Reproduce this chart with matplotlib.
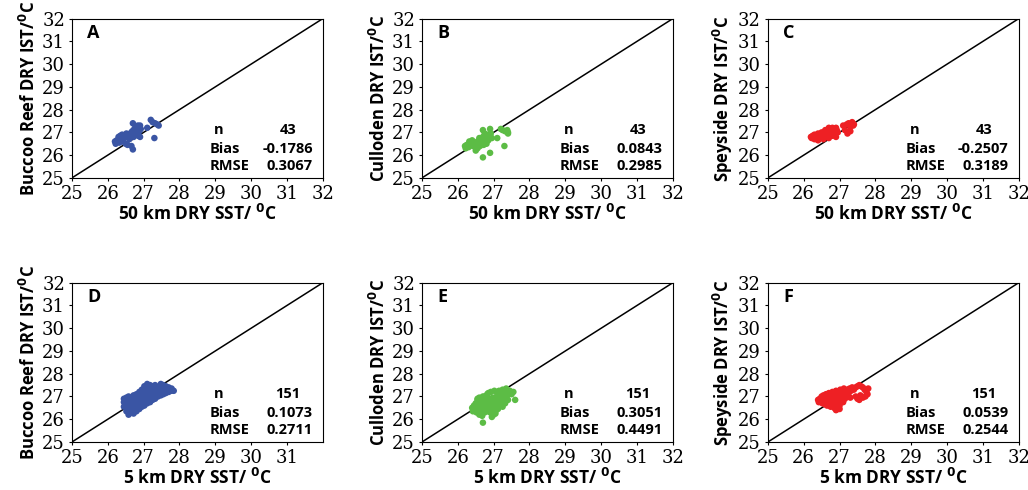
import numpy as np
import matplotlib
matplotlib.use("Agg")
import matplotlib.pyplot as plt

# ---- data ----
xA = [26.20, 26.22, 26.25, 26.30, 26.32, 26.35, 26.38, 26.40, 26.42, 26.45, 26.48, 26.50, 26.52, 26.55, 26.58,
      26.60, 26.62, 26.65, 26.66, 26.68, 26.70, 26.70, 26.72, 26.74, 26.75, 26.77, 26.78, 26.80, 26.82, 26.84,
      26.85, 26.86, 26.88, 26.90, 26.90, 26.92, 27.10, 27.20, 27.25, 27.30, 27.32, 27.38, 27.42]
yA = [26.60, 26.50, 26.65, 26.80, 26.55, 26.85, 26.70, 26.90, 26.60, 26.75, 26.80, 26.50, 26.95, 26.45, 26.85,
      26.70, 26.95, 26.90, 26.40, 27.05, 27.40, 26.25, 26.80, 27.15, 27.00, 26.95, 27.25, 27.10, 27.00, 27.30,
      26.85, 27.20, 27.05, 27.30, 26.80, 27.15, 27.20, 27.55, 27.45, 26.75, 27.40, 27.35, 27.30]

xB = [26.20, 26.22, 26.25, 26.30, 26.32, 26.35, 26.40, 26.42, 26.45, 26.50, 26.50, 26.55, 26.55, 26.60, 26.60,
      26.62, 26.65, 26.68, 26.70, 26.70, 26.70, 26.72, 26.75, 26.75, 26.78, 26.80, 26.80, 26.82, 26.85, 26.85,
      26.88, 26.90, 26.90, 26.92, 26.95, 27.10, 27.20, 27.25, 27.30, 27.32, 27.38, 27.40, 27.40]
yB = [26.40, 26.30, 26.45, 26.35, 26.60, 26.50, 26.65, 26.40, 26.55, 26.20, 26.45, 26.60, 26.30, 26.75, 26.50,
      26.40, 26.65, 26.55, 27.10, 25.90, 26.80, 26.45, 26.70, 26.95, 26.60, 26.85, 26.50, 26.75, 26.90, 26.65,
      26.80, 27.15, 26.10, 26.95, 26.75, 26.75, 27.15, 27.10, 26.40, 27.05, 27.10, 26.95, 27.00]

xC = [26.20, 26.22, 26.25, 26.30, 26.30, 26.35, 26.40, 26.40, 26.45, 26.50, 26.50, 26.55, 26.55, 26.60, 26.60,
      26.62, 26.65, 26.68, 26.70, 26.70, 26.72, 26.75, 26.75, 26.78, 26.80, 26.80, 26.82, 26.85, 26.88, 26.90,
      26.90, 26.92, 26.95, 27.10, 27.15, 27.20, 27.22, 27.25, 27.30, 27.30, 27.35, 27.38, 27.40]
yC = [26.80, 26.75, 26.85, 26.70, 26.90, 26.80, 26.65, 26.95, 26.75, 26.85, 27.00, 26.70, 26.90, 27.10, 26.80,
      26.95, 27.00, 26.85, 27.20, 26.75, 27.05, 26.90, 27.15, 27.00, 27.20, 26.85, 27.10, 26.95, 27.05, 27.20,
      26.80, 27.10, 27.00, 27.30, 27.10, 27.35, 26.95, 27.40, 27.25, 27.05, 27.45, 27.30, 27.35]

xD = [26.45, 26.45, 26.45, 26.52, 26.52, 26.52, 26.52, 26.58, 26.58, 26.58, 26.58, 26.58,
      26.65, 26.65, 26.65, 26.65, 26.65, 26.72, 26.72, 26.72, 26.72, 26.72,
      26.80, 26.80, 26.80, 26.80, 26.80, 26.88, 26.88, 26.88, 26.88, 26.88,
      26.95, 26.95, 26.95, 26.95, 26.95, 27.02, 27.02, 27.02, 27.02, 27.02,
      27.10, 27.10, 27.10, 27.10, 27.10, 27.18, 27.18, 27.18, 27.18, 27.18,
      27.25, 27.25, 27.25, 27.25, 27.32, 27.32, 27.32, 27.32, 27.40, 27.40, 27.40,
      27.48, 27.48, 27.48, 27.48, 27.55, 27.55, 27.55, 27.62, 27.62, 27.62,
      27.70, 27.70, 27.78, 27.78, 27.84]
yD = [26.55, 26.75, 26.90, 26.35, 26.60, 26.85, 26.95, 26.20, 26.45, 26.70, 26.90, 27.00,
      26.30, 26.55, 26.80, 26.95, 26.65, 26.25, 26.40, 26.60, 26.85, 27.05,
      26.50, 26.70, 26.90, 27.10, 26.35, 26.45, 26.65, 26.85, 27.00, 27.20,
      26.55, 26.75, 26.95, 27.15, 27.30, 26.60, 26.80, 27.00, 27.25, 27.45,
      26.70, 26.90, 27.10, 27.35, 27.55, 26.75, 26.95, 27.15, 27.40, 27.50,
      26.85, 27.05, 27.25, 27.45, 26.90, 27.10, 27.30, 27.50, 27.00, 27.20, 27.40,
      27.05, 27.25, 27.45, 27.55, 27.10, 27.30, 27.50, 27.15, 27.35, 27.45,
      27.20, 27.40, 27.25, 27.35, 27.25]

xE = [26.40, 26.42, 26.45, 26.48, 26.50, 26.52, 26.55, 26.55, 26.58, 26.60, 26.60, 26.62, 26.65, 26.65,
      26.68, 26.70, 26.70, 26.72, 26.75, 26.75, 26.78, 26.80, 26.80, 26.82, 26.85, 26.85, 26.88, 26.90,
      26.90, 26.92, 26.95, 26.95, 26.98, 27.00, 27.00, 27.02, 27.05, 27.05, 27.08, 27.10, 27.10, 27.12,
      27.15, 27.15, 27.18, 27.20, 27.22, 27.25, 27.28, 27.30, 27.32, 27.35, 27.38, 27.40, 27.45, 27.50,
      27.55, 27.60, 26.60, 26.70, 26.68, 26.95, 27.05, 27.25, 26.85, 26.75, 26.55, 27.00, 26.90]
yE = [26.50, 26.35, 26.60, 26.45, 26.70, 26.30, 26.55, 26.85, 26.40, 26.65, 26.95, 26.25, 26.50, 26.80,
      26.60, 26.40, 27.00, 26.70, 26.30, 26.85, 26.55, 26.45, 26.75, 27.10, 26.35, 26.65, 26.90, 26.50,
      26.80, 27.20, 26.40, 26.70, 26.95, 26.55, 26.85, 27.25, 26.60, 26.35, 26.90, 26.75, 27.05, 26.45,
      26.95, 27.25, 26.65, 27.10, 26.80, 27.30, 26.95, 27.20, 26.70, 27.35, 27.05, 26.85, 27.25, 27.10,
      27.20, 26.85, 26.20, 25.85, 26.15, 26.10, 26.25, 26.55, 27.15, 27.00, 26.90, 26.20, 26.30]

xF = [26.40, 26.42, 26.45, 26.48, 26.50, 26.52, 26.55, 26.55, 26.58, 26.60, 26.60, 26.62, 26.65, 26.65,
      26.68, 26.70, 26.70, 26.72, 26.75, 26.75, 26.78, 26.80, 26.80, 26.82, 26.85, 26.85, 26.88, 26.90,
      26.90, 26.92, 26.95, 26.95, 26.98, 27.00, 27.00, 27.02, 27.05, 27.05, 27.08, 27.10, 27.10, 27.12,
      27.15, 27.15, 27.18, 27.20, 27.22, 27.25, 27.28, 27.30, 27.32, 27.35, 27.40, 27.45, 27.50, 27.55,
      27.60, 27.65, 27.70, 27.75, 27.80, 27.78, 27.72, 27.65, 27.58, 27.50, 27.45, 27.55, 26.90, 27.00]
yF = [26.85, 26.75, 26.90, 26.80, 27.00, 26.70, 26.90, 27.05, 26.75, 26.95, 26.65, 27.10, 26.85, 26.60,
      27.00, 26.75, 27.15, 26.90, 26.55, 27.05, 26.85, 27.20, 26.65, 26.95, 27.10, 26.50, 26.85, 27.25,
      26.65, 27.00, 26.45, 27.20, 26.80, 27.05, 26.60, 27.30, 26.90, 27.15, 27.00, 27.25, 26.75, 27.35,
      27.10, 26.90, 27.20, 27.05, 27.30, 27.15, 27.35, 26.95, 27.25, 27.40, 27.30, 27.40, 27.45, 27.50,
      27.45, 27.40, 27.30, 27.20, 27.35, 27.10, 27.00, 26.95, 27.05, 26.90, 27.00, 26.85, 26.40, 26.45]

panels = [
    ("A", xA, yA, "Buccoo Reef DRY IST/", "50 km DRY SST/ ", "43", "-0.1786", "0.3067", "#3a55a4"),
    ("B", xB, yB, "Culloden DRY IST/", "50 km DRY SST/ ", "43", "0.0843", "0.2985", "#5cbc45"),
    ("C", xC, yC, "Speyside DRY IST/", "50 km DRY SST/ ", "43", "-0.2507", "0.3189", "#ee2024"),
    ("D", xD, yD, "Buccoo Reef DRY IST/", "5 km DRY SST/ ", "151", "0.1073", "0.2711", "#3a55a4"),
    ("E", xE, yE, "Culloden DRY IST/", "5 km DRY SST/ ", "151", "0.3051", "0.4491", "#5cbc45"),
    ("F", xF, yF, "Speyside DRY IST/", "5 km DRY SST/ ", "151", "0.0539", "0.2544", "#ee2024"),
]

lefts = [0.070, 0.4105, 0.747]
bottoms = [0.637, 0.098]
W, H = 0.244, 0.325

fig = plt.figure(figsize=(10.28, 4.9), dpi=100)
lab = dict(family="Open Sans", fontweight="bold")

for i, (letter, x, y, ylab, xlab, n, bias, rmse, col) in enumerate(panels):
    ax = fig.add_axes([lefts[i % 3], bottoms[i // 3], W, H])
    ax.plot([25, 32], [25, 32], color="black", lw=1.1, zorder=1)
    ax.scatter(x, y, s=22, color=col, edgecolors="none", zorder=2)
    ax.set_xlim(25, 32)
    ax.set_ylim(25, 32)
    if letter == "D":
        ax.set_xticks(range(25, 32))
    else:
        ax.set_xticks(range(25, 33))
    ax.set_yticks(range(25, 33))
    ax.tick_params(length=2, labelsize=13, pad=3)
    for t in ax.get_xticklabels() + ax.get_yticklabels():
        t.set_family("DejaVu Serif")
    ax.set_ylabel(ylab + r"$^{\mathbf{0}}$C", fontsize=12, labelpad=2, **lab)
    ax.set_xlabel(xlab + r"$^{\mathbf{0}}$C", fontsize=12.5, labelpad=1, **lab)
    ax.text(0.06, 0.91, letter, transform=ax.transAxes, fontsize=13, va="center", ha="left", **lab)
    ax.text(0.585, 0.30, "n", transform=ax.transAxes, fontsize=10.5, ha="center", va="center", **lab)
    ax.text(0.86, 0.30, n, transform=ax.transAxes, fontsize=10.5, ha="center", va="center", **lab)
    ax.text(0.55, 0.18, "Bias", transform=ax.transAxes, fontsize=10.5, ha="left", va="center", **lab)
    ax.text(0.96, 0.18, bias, transform=ax.transAxes, fontsize=10.5, ha="right", va="center", **lab)
    ax.text(0.55, 0.075, "RMSE", transform=ax.transAxes, fontsize=10.5, ha="left", va="center", **lab)
    ax.text(0.96, 0.075, rmse, transform=ax.transAxes, fontsize=10.5, ha="right", va="center", **lab)
    for s in ax.spines.values():
        s.set_linewidth(0.8)

fig.savefig("out.png", dpi=100)
